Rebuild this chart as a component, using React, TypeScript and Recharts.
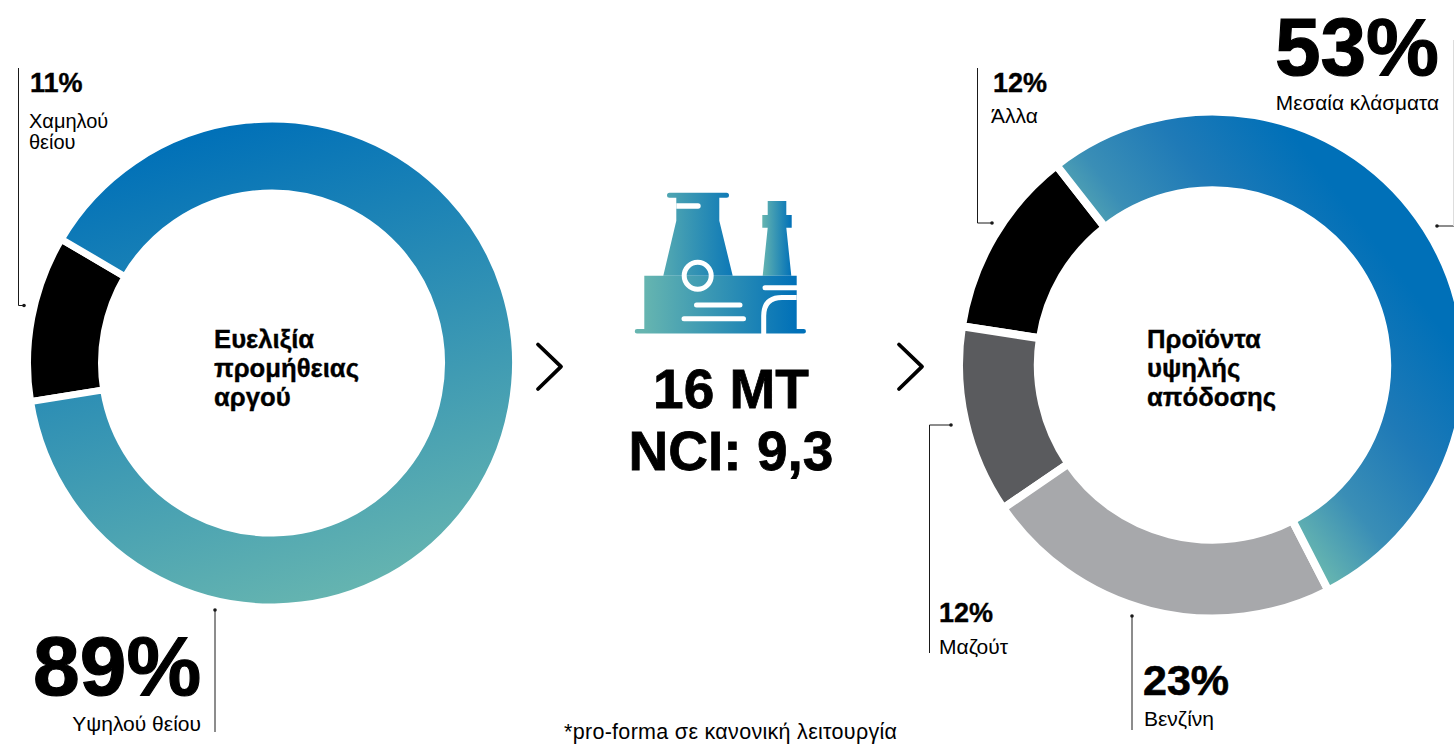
import { PieChart, Pie, Cell } from "recharts";

const FONT = '"Liberation Sans", Arial, sans-serif';

// left donut
const feedNames = ["Χαμηλού θείου", "Υψηλού θείου"];
const feedValues = [11, 89];
const feedColors = ["#000000", "url(#feedGrad)"];

// right donut
const productNames = ["Άλλα", "Μαζούτ", "Βενζίνη", "Μεσαία κλάσματα"];
const productValues = [12, 12, 23, 53];
const productColors = ["#000000", "#5a5b5e", "#a7a8ab", "url(#productGrad)"];

const feedData = feedNames.map((name, i) => ({ name, value: feedValues[i] }));
const productData = productNames.map((name, i) => ({ name, value: productValues[i] }));

function Callout({ d, dot }: { d: string; dot: [number, number] }) {
  return (
    <g>
      <path d={d} fill="none" stroke="#1a1a1a" strokeWidth={1} />
      <circle cx={dot[0]} cy={dot[1]} r={1.8} fill="#1a1a1a" />
    </g>
  );
}

function Txt({ x, y, size, bold, anchor, spacing, children }: any) {
  return (
    <text
      x={x}
      y={y}
      fontSize={size}
      fontFamily={FONT}
      fontWeight={bold ? 700 : 400}
      textAnchor={anchor || "start"}
      letterSpacing={spacing}
      fill="#000"
      stroke={bold ? "#000" : "none"}
      strokeWidth={bold ? size * 0.014 : 0}
    >
      {children}
    </text>
  );
}

function PlantIcon() {
  return (
    <g>
      {/* tower */}
      <path d="M669.5 192.7H726.5a2.5 2.5 0 0 1 0 5H719.3V220.7L732.7 275.7H663.3L676.3 220.7V197.7H669.5a2.5 2.5 0 0 1 0-5Z" fill="url(#iconTower)" />
      <path d="M676.3 203.3H698a2.7 2.7 0 0 1 0 5.4H676.3Z" fill="#fff" />
      {/* chimney */}
      <path d="M767.7 201H786.3V215H791.7V227.7H786.3L791.3 275.7H762.7L767.7 227.7H762.3V215H767.7Z" fill="url(#iconChimney)" />
      {/* base */}
      <path d="M644.3 275.7H796.7V329H803.7a2.2 2.2 0 0 1 0 4.5H637a2.2 2.2 0 0 1 0-4.5H644.3Z" fill="url(#iconBase)" />
      {/* round window */}
      <circle cx={697.7} cy={275.7} r={13.5} fill="none" stroke="#fff" strokeWidth={5} />
      {/* white strokes */}
      <path d="M696.5 305H740M684 318.7H743.5" stroke="#fff" strokeWidth={5} strokeLinecap="round" fill="none" />
      <path d="M765 287.7H796.7" stroke="#fff" strokeWidth={5} strokeLinecap="round" fill="none" />
      <path d="M763.7 334V316Q763.7 297.5 782 297.5H796.7" stroke="#fff" strokeWidth={5} fill="none" />
    </g>
  );
}

export default function App() {
  return (
    <div style={{ position: "absolute", left: 0, top: 0, width: 1454, height: 744, overflow: "hidden", background: "#fff" }}>
      <PieChart width={1454} height={744} margin={{ top: 0, right: 0, bottom: 0, left: 0 }}>
        <defs>
          <linearGradient id="feedGrad" gradientUnits="userSpaceOnUse" x1={200} y1={130} x2={340} y2={600}>
            <stop offset="0" stopColor="#0070b8" />
            <stop offset="1" stopColor="#66b5b0" />
          </linearGradient>
          <linearGradient id="productGrad" gradientUnits="userSpaceOnUse" x1={1327} y1={581} x2={1521} y2={433}>
            <stop offset="0" stopColor="#66b5b0" />
            <stop offset="0.27" stopColor="#3a8eb6" />
            <stop offset="0.6" stopColor="#1f7ab7" />
            <stop offset="1" stopColor="#0070b8" />
          </linearGradient>
          <linearGradient id="iconBase" gradientUnits="userSpaceOnUse" x1={644} y1={0} x2={797} y2={0}>
            <stop offset="0" stopColor="#66b5b0" />
            <stop offset="1" stopColor="#0070b8" />
          </linearGradient>
          <linearGradient id="iconTower" gradientUnits="userSpaceOnUse" x1={645} y1={0} x2={745} y2={0}>
            <stop offset="0" stopColor="#66b5b0" />
            <stop offset="1" stopColor="#0070b8" />
          </linearGradient>
          <linearGradient id="iconChimney" gradientUnits="userSpaceOnUse" x1={762} y1={0} x2={792} y2={0}>
            <stop offset="0" stopColor="#66b5b0" />
            <stop offset="1" stopColor="#0070b8" />
          </linearGradient>
        </defs>

        <Pie
          data={feedData}
          dataKey="value"
          nameKey="name"
          cx={271.5}
          cy={363}
          innerRadius={170}
          outerRadius={244}
          startAngle={149.5}
          endAngle={509.5}
          stroke="#fff"
          strokeWidth={7}
          isAnimationActive={false}
        >
          {feedData.map((d, i) => (
            <Cell key={d.name} fill={feedColors[i]} />
          ))}
        </Pie>

        <Pie
          data={productData}
          dataKey="value"
          nameKey="name"
          cx={1212.5}
          cy={365}
          innerRadius={174.7}
          outerRadius={253.5}
          startAngle={128}
          endAngle={488}
          stroke="#fff"
          strokeWidth={8}
          isAnimationActive={false}
        >
          {productData.map((d, i) => (
            <Cell key={d.name} fill={productColors[i]} />
          ))}
        </Pie>

        {/* leaders */}
        <Callout d="M18.5 68V305.5H23" dot={[24, 305.5]} />
        <Callout d="M215 610V732" dot={[215, 610]} />
        <Callout d="M977.5 68V223H992" dot={[992, 223]} />
        <Callout d="M1454 226H1437" dot={[1437, 226]} />
        <path d="M1453.5 40V226" stroke="#dddddd" strokeWidth={1} fill="none" />
        <Callout d="M929.5 653V425H951" dot={[951, 425]} />
        <Callout d="M1132 616V730" dot={[1132, 616]} />

        {/* left labels */}
        <Txt x={30} y={92} size={27} bold>11%</Txt>
        <Txt x={29} y={128} size={20}>Χαμηλού</Txt>
        <Txt x={29} y={149} size={20}>θείου</Txt>
        <Txt x={33} y={695} size={84} bold>89%</Txt>
        <Txt x={201} y={731} size={21} anchor="end">Υψηλού θείου</Txt>
        <Txt x={214} y={348} size={25.7} bold>Ευελιξία</Txt>
        <Txt x={214} y={377} size={25.7} bold>προμήθειας</Txt>
        <Txt x={214} y={406} size={25.7} bold>αργού</Txt>

        {/* middle */}
        <PlantIcon />
        <path d="M538 344.5L561 366.7L538 389" fill="none" stroke="#000" strokeWidth={3.8} strokeLinecap="round" strokeLinejoin="round" />
        <path d="M899 344.5L922 366.7L899 389" fill="none" stroke="#000" strokeWidth={3.8} strokeLinecap="round" strokeLinejoin="round" />
        <Txt x={731} y={408} size={55} bold anchor="middle">16 MT</Txt>
        <Txt x={731} y={470} size={55} bold anchor="middle">NCI: 9,3</Txt>
        <Txt x={564} y={739} size={21.5} spacing={0.3}>*pro-forma σε κανονική λειτουργία</Txt>

        {/* right labels */}
        <Txt x={1147} y={348} size={25.7} bold>Προϊόντα</Txt>
        <Txt x={1147} y={377} size={25.7} bold>υψηλής</Txt>
        <Txt x={1147} y={406} size={25.7} bold>απόδοσης</Txt>
        <Txt x={1439} y={75} size={82} bold anchor="end">53%</Txt>
        <Txt x={1439} y={110} size={20.8} anchor="end">Μεσαία κλάσματα</Txt>
        <Txt x={993} y={92} size={27} bold>12%</Txt>
        <Txt x={991} y={123} size={21}>Άλλα</Txt>
        <Txt x={939} y={622} size={27} bold>12%</Txt>
        <Txt x={939} y={654} size={21}>Μαζούτ</Txt>
        <Txt x={1143} y={695} size={43} bold>23%</Txt>
        <Txt x={1144} y={726} size={21}>Βενζίνη</Txt>
      </PieChart>
    </div>
  );
}
